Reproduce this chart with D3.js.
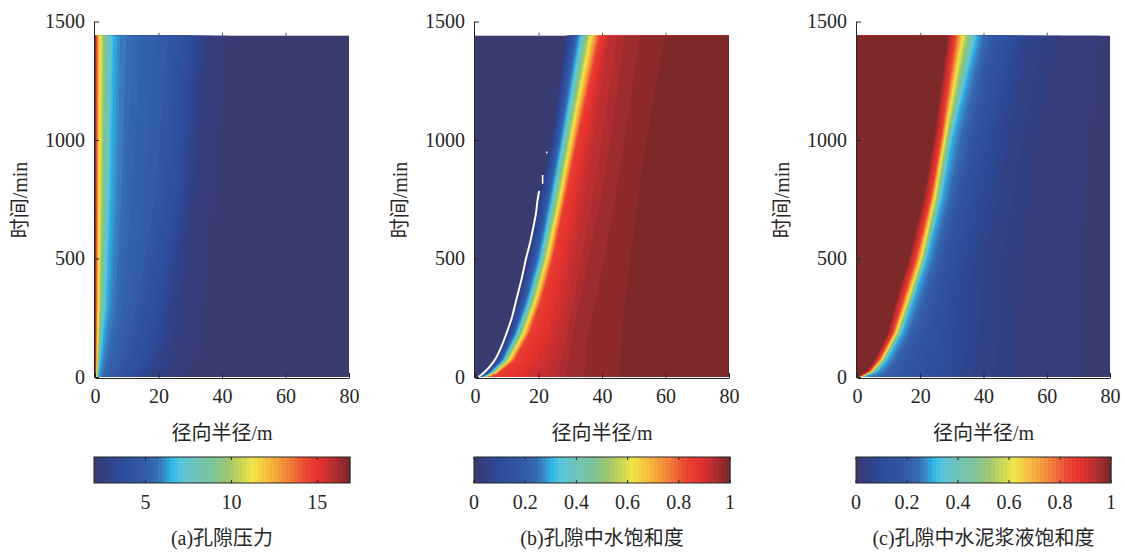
<!DOCTYPE html>
<html>
<head>
<meta charset="utf-8">
<script src="https://cdn.jsdelivr.net/npm/d3@7"></script>
<style>
  body { margin: 0; background: #fff; }
</style>
</head>
<body>
<div id="chart"></div>
<script>
// ---- data ----
const xTicks = [0, 20, 40, 60, 80];
const yTicks = [0, 500, 1000, 1500];
const tMax = 1440;

// (a) pore pressure: radius (m) of each pressure level at each time (min)
const timesA = [0, 60, 300, 760, 1440];
const levelsA = [17, 15, 12, 9, 6.5, 5.9, 5.3, 4.7, 3.8, 3.0, 2.3, 2.0];
const radiiA = [
  [0, 0, 0, 0, 0],
  [0.1, 0.15, 0.2, 0.25, 0.3],
  [0.3, 0.5, 0.8, 1.0, 1.2],
  [0.6, 1.0, 2.0, 2.8, 3.2],
  [1.0, 1.6, 3.6, 4.8, 5.8],
  [1.8, 2.8, 5.4, 7.2, 8.2],
  [3.0, 4.8, 8.5, 11, 14],
  [6.0, 8.9, 14, 20.5, 24.7],
  [10, 14.7, 19, 25.7, 28.9],
  [14, 20, 23, 28.5, 32.5],
  [24, 27, 30, 33, 37.8],
  [40, 45, 47, 50, 55]
];

// (b) water saturation
const timesB = [0, 15, 70, 185, 325, 505, 750, 1000, 1440];
const levelsB = [0, 0.15, 0.3, 0.6, 0.85, 0.92, 0.955, 0.975, 0.99, 1];
const radiiB = [
  [1.3, 2.7, 6.4, 10.1, 13.2, 16.4, 19.9, 23.8, 28.4],
  [1.9, 3.7, 7.7, 11.7, 15.0, 18.5, 22.2, 25.7, 30.7],
  [2.6, 4.7, 8.9, 13.1, 16.8, 20.5, 24.1, 27.5, 33.1],
  [3.4, 6.0, 10.5, 15.2, 18.9, 22.6, 26.5, 30.0, 36.2],
  [4.3, 7.3, 12.6, 17.3, 21.0, 24.7, 28.5, 32.3, 39.5],
  [22, 22.5, 24, 27, 29, 31, 34, 37, 42],
  [28.5, 29, 30, 31, 33.5, 36, 40, 43, 47.5],
  [37, 37, 37.2, 37.5, 40, 43, 46, 49, 54],
  [51, 51, 51.2, 51.4, 52, 52.5, 54.6, 57, 63.5],
  [90, 90, 90, 90, 90, 90, 90, 90, 90]
];
// blank (NaN) seam along the water front in (b)
const gapR = [1.1, 1.6, 2.5, 4.4, 6.2, 8.2, 9.9, 11.6, 13.0, 14.7, 16.2, 17.4, 18.4, 19.2, 19.7, 20.2];
const gapT = [0, 5, 15, 40, 71, 125, 184, 250, 325, 415, 507, 570, 634, 690, 746, 785];
const speckR = [21.3, 22.6];
const speckT0 = [815, 944];
const speckT1 = [852, 952];

// (c) cement slurry saturation
const timesC = [0, 22, 71, 184, 325, 500, 755, 1000, 1440];
const levelsC = [1, 0.85, 0.6, 0.3, 0.2, 0.15, 0.1, 0.06, 0.03, 0];
const radiiC = [
  [0.2, 2.8, 5.4, 9.5, 12.2, 16.2, 20.8, 24.0, 28.5],
  [0.6, 3.8, 6.8, 11.2, 14.4, 18.5, 23.2, 26.4, 31.0],
  [1.0, 4.6, 7.8, 12.5, 16.2, 20.4, 24.7, 27.8, 33.8],
  [1.6, 6.2, 9.4, 14.1, 17.8, 22.0, 26.8, 30.0, 38.0],
  [8, 11, 13.5, 18, 22, 26, 31, 35, 42],
  [20, 20.5, 21.5, 24, 26.5, 29, 33.5, 38, 46],
  [28.9, 29, 29.2, 29.4, 30.5, 33, 38, 42, 50],
  [36.8, 37, 38, 39.4, 39.6, 40.5, 45, 48, 54.5],
  [51.6, 51.6, 51.6, 51.5, 52, 52.6, 55, 57.5, 64.3],
  [90, 90, 90, 90, 90, 90, 90, 90, 90]
];

const cbTicksA = [5, 10, 15];
const cbTicksB = [0, 0.2, 0.4, 0.6, 0.8, 1];
const cbTicksC = [0, 0.2, 0.4, 0.6, 0.8, 1];
const captions = ["(a)孔隙压力", "(b)孔隙中水饱和度", "(c)孔隙中水泥浆液饱和度"];

// colormap
const cmapStops = [0, 0.04, 0.10, 0.18, 0.24, 0.27, 0.30, 0.34, 0.40, 0.46, 0.52, 0.57, 0.62, 0.66, 0.72, 0.78, 0.83, 0.88, 0.94, 1];
const cmapColors = ["#3a3b6d", "#333f84", "#2d4b99", "#3156a5", "#3569b2", "#3a86c6", "#2cb4e7", "#58c5db",
  "#70c4b8", "#7bc39a", "#9bc66f", "#c5d556", "#f0e64a", "#f5c940", "#f4a03a", "#ef7036", "#ea4533",
  "#e5312d", "#b42d2f", "#752829"];

const FONT = '"Liberation Serif", "Times New Roman", "Noto Sans CJK SC", serif';
const INK = "#262626";
const NSTEP = 64;

const cmap = d3.scaleLinear().domain(cmapStops).range(cmapColors).interpolate(d3.interpolateRgb);

const svg = d3.select("#chart").append("svg")
  .attr("width", 1125)
  .attr("height", 553);

const panels = [
  {key: "a", left: 95, right: 349, times: timesA, levels: levelsA, radii: radiiA, lo: 2.0, hi: 16.9, cbTicks: cbTicksA, caption: captions[0], dr: 0.1},
  {key: "b", left: 475, right: 729, times: timesB, levels: levelsB, radii: radiiB, lo: 0, hi: 1, cbTicks: cbTicksB, caption: captions[1], dr: 0.125},
  {key: "c", left: 857, right: 1110, times: timesC, levels: levelsC, radii: radiiC, lo: 0, hi: 1, cbTicks: cbTicksC, caption: captions[2], dr: 0.125}
];

function drawPanel(p) {
  let x = d3.scaleLinear().domain([0, 80]).range([p.left, p.right]);
  let y = d3.scaleLinear().domain([0, 1500]).range([377, 21.5]);

  svg.append("clipPath").attr("id", "clip-" + p.key)
    .append("rect")
    .attr("x", x(0))
    .attr("y", y(tMax))
    .attr("width", x(80) - x(0))
    .attr("height", y(0) - y(tMax));

  // sample the field on a regular grid from the isoline tables
  const r0 = -1, t0 = -16, dt = 8, dr = p.dr;
  const n = Math.round(82 / dr) + 1;
  const m = Math.round((tMax + 32) / dt) + 1;
  const values = new Array(n * m);
  for (let j = 0; j < m; j++) {
    const t = Math.max(0, Math.min(tMax, t0 + j * dt));
    const pos = p.radii.map(row => d3.scaleLinear().domain(p.times).range(row).clamp(true)(t));
    const f = d3.scaleLinear().domain(pos).range(p.levels).clamp(true);
    for (let i = 0; i < n; i++) values[j * n + i] = f(r0 + i * dr);
  }

  const step = (p.hi - p.lo) / NSTEP;
  const thresholds = d3.range(NSTEP).map(k => p.lo + k * step);
  const bands = d3.contours().size([n, m]).thresholds(thresholds)(values);

  const path = d3.geoPath(d3.geoTransform({
    point: function (px, py) {
      this.stream.point(x(r0 + (px - 0.5) * dr), y(t0 + (py - 0.5) * dt));
    }
  }));

  const img = svg.append("g").attr("clip-path", "url(#clip-" + p.key + ")");
  img.append("rect")
    .attr("x", x(0)).attr("y", y(tMax))
    .attr("width", x(80) - x(0)).attr("height", y(0) - y(tMax))
    .attr("fill", cmap(0.5 / NSTEP));
  img.selectAll("path.band")
    .data(bands)
    .join("path")
    .attr("class", "band")
    .attr("d", path)
    .attr("fill-rule", "evenodd")
    .attr("fill", d => cmap((Math.round((d.value - p.lo) / step) + 0.5) / NSTEP));

  if (p.key === "b") {
    const line = d3.line().x(d => x(d[0])).y(d => y(d[1])).curve(d3.curveMonotoneY);
    img.append("path")
      .attr("d", line(d3.zip(gapR, gapT)))
      .attr("fill", "none")
      .attr("stroke", "#fff")
      .attr("stroke-width", 2);
    speckR.forEach((r, i) => {
      img.append("path")
        .attr("d", line([[r, speckT0[i]], [r, speckT1[i]]]))
        .attr("stroke", "#fff")
        .attr("stroke-width", 1.6);
    });
  }

  // axes, ticks pointing inward
  const gy = svg.append("g")
    .attr("transform", "translate(" + (x(0) - 1) + ",0)")
    .call(d3.axisLeft(y).tickValues(yTicks).tickFormat(d3.format("d"))
      .tickSizeInner(-5).tickSizeOuter(0).tickPadding(9));
  const gx = svg.append("g")
    .attr("transform", "translate(0," + (y(0) + 1) + ")")
    .call(d3.axisBottom(x).tickValues(xTicks).tickFormat(d3.format("d"))
      .tickSizeInner(-5).tickSizeOuter(0).tickPadding(11));
  [gx, gy].forEach(a => {
    a.attr("font-family", FONT).attr("font-size", 20).attr("color", INK);
  });

  // small marks along the top edge of the image
  svg.append("g").selectAll("line")
    .data(xTicks.slice(1, -1))
    .join("line")
    .attr("x1", d => x(d) + 0.5).attr("x2", d => x(d) + 0.5)
    .attr("y1", y(tMax) - 3).attr("y2", y(tMax))
    .attr("stroke", "#555");

  svg.append("text")
    .attr("x", (x(0) + x(80)) / 2)
    .attr("y", 440)
    .attr("text-anchor", "middle")
    .style("font-family", FONT)
    .style("font-size", "20px")
    .style("fill", INK)
    .text("径向半径/m");

  svg.append("text")
    .attr("transform", "translate(" + (x(0) - 68) + ",200)rotate(-90)")
    .attr("text-anchor", "middle")
    .style("font-family", FONT)
    .style("font-size", "20px")
    .style("fill", INK)
    .text("时间/min");

  // colour bar
  const cb = d3.scaleLinear().domain([p.lo, p.hi]).range([x(0) - 1, x(80) + 1]);
  const cbTop = 457, cbH = 26;
  const cells = d3.range(NSTEP);
  svg.append("g").selectAll("rect")
    .data(cells)
    .join("rect")
    .attr("x", k => cb(p.lo + k * step))
    .attr("y", cbTop)
    .attr("width", k => cb(p.lo + (k + 1) * step) - cb(p.lo + k * step) + 0.4)
    .attr("height", cbH)
    .attr("fill", k => cmap((k + 0.5) / NSTEP));
  svg.append("rect")
    .attr("x", cb(p.lo)).attr("y", cbTop)
    .attr("width", cb(p.hi) - cb(p.lo)).attr("height", cbH)
    .attr("fill", "none").attr("stroke", INK).attr("stroke-width", 1);
  const cbT = svg.append("g").selectAll("g")
    .data(p.cbTicks)
    .join("g");
  cbT.append("line")
    .attr("x1", d => cb(d)).attr("x2", d => cb(d))
    .attr("y1", cbTop).attr("y2", cbTop + 3)
    .attr("stroke", INK);
  cbT.append("line")
    .attr("x1", d => cb(d)).attr("x2", d => cb(d))
    .attr("y1", cbTop + cbH - 3).attr("y2", cbTop + cbH)
    .attr("stroke", INK);
  cbT.append("text")
    .attr("x", d => cb(d))
    .attr("y", 509)
    .attr("text-anchor", "middle")
    .style("font-family", FONT)
    .style("font-size", "20px")
    .style("fill", INK)
    .text(d => String(d));

  svg.append("text")
    .attr("x", (x(0) + x(80)) / 2)
    .attr("y", 545)
    .attr("text-anchor", "middle")
    .style("font-family", FONT)
    .style("font-size", "20px")
    .style("fill", INK)
    .text(p.caption);
}

panels.forEach(drawPanel);
</script>
</body>
</html>
